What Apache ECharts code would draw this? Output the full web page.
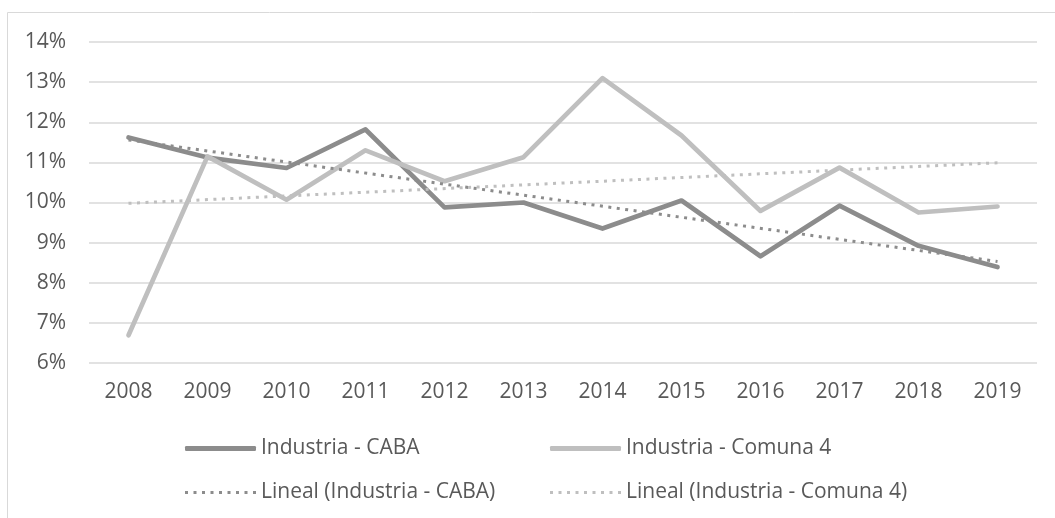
<!DOCTYPE html>
<html>
<head>
<meta charset="utf-8">
<script src="https://cdn.jsdelivr.net/npm/echarts@6/dist/echarts.min.js"></script>
<style>
html,body{margin:0;padding:0;background:#fff;}
#chart{width:1055px;height:518px;}
</style>
</head>
<body>
<div id="chart"></div>
<script>
var years = ['2008','2009','2010','2011','2012','2013','2014','2015','2016','2017','2018','2019'];
var caba = [11.62, 11.12, 10.86, 11.82, 9.88, 10.0, 9.35, 10.05, 8.66, 9.92, 8.92, 8.39];
var comuna4 = [6.69, 11.15, 10.07, 11.3, 10.53, 11.13, 13.1, 11.67, 9.79, 10.87, 9.75, 9.9];
var trendCaba = [11.56, null, null, null, null, null, null, null, null, null, null, 8.53];
var trendComuna4 = [9.98, null, null, null, null, null, null, null, null, null, null, 10.99];
var yTicks = [6, 7, 8, 9, 10, 11, 12, 13, 14];
var names = ['Industria - CABA', 'Industria - Comuna 4', 'Lineal (Industria - CABA)', 'Lineal (Industria - Comuna 4)'];

var dark = '#8c8c8c', light = '#bfbfbf', txt = '#595959', FONT = 'Open Sans';
var dotIcon = 'path://';
for (var i = 0; i < 9; i++) { dotIcon += 'M' + (i * 8.5) + ',0h3v3h-3z'; }

var chart = echarts.init(document.getElementById('chart'));
var legendText = {color: txt, fontSize: 21, fontFamily: FONT};
function lg(name, left, top, icon, h) {
  return {left: left, top: top, itemWidth: 71, itemHeight: h, data: [{name: name, icon: icon}], textStyle: legendText, selectedMode: false};
}
chart.setOption({
  animation: false,
  graphic: [{type: 'rect', shape: {x: 7.5, y: 12.5, width: 1100, height: 600}, style: {fill: 'none', stroke: '#d9d9d9', lineWidth: 1}, silent: true}],
  grid: {left: 89, right: 18, top: 42, bottom: 155},
  xAxis: {
    type: 'category', data: years, boundaryGap: true,
    axisLine: {show: false}, axisTick: {show: false},
    axisLabel: {color: txt, fontSize: 21, fontFamily: FONT, margin: 19}
  },
  yAxis: {
    type: 'value', min: yTicks[0], max: yTicks[yTicks.length - 1], interval: 1,
    axisLine: {show: false}, axisTick: {show: false},
    splitLine: {lineStyle: {color: '#d9d9d9', width: 1.5}},
    axisLabel: {color: txt, fontSize: 21, fontFamily: FONT, margin: 23, formatter: function (v) { return v + '%'; }}
  },
  legend: [
    lg(names[0], 180, 433, 'roundRect', 5),
    lg(names[1], 545, 433, 'roundRect', 5),
    lg(names[2], 180, 477, dotIcon, 3),
    lg(names[3], 545, 477, dotIcon, 3)
  ],
  series: [
    {name: names[0], type: 'line', data: caba, symbol: 'none', lineStyle: {color: dark, width: 4.7, cap: 'round', join: 'round'}, itemStyle: {color: dark}, z: 1},
    {name: names[1], type: 'line', data: comuna4, symbol: 'none', lineStyle: {color: light, width: 4.7, cap: 'round', join: 'round'}, itemStyle: {color: light}, z: 2},
    {name: names[2], type: 'line', data: trendCaba, connectNulls: true, symbol: 'none', lineStyle: {color: dark, width: 3, type: [3, 5.5]}, itemStyle: {color: dark}, z: 3},
    {name: names[3], type: 'line', data: trendComuna4, connectNulls: true, symbol: 'none', lineStyle: {color: light, width: 3, type: [3, 5.5]}, itemStyle: {color: light}, z: 3}
  ]
});
</script>
</body>
</html>
